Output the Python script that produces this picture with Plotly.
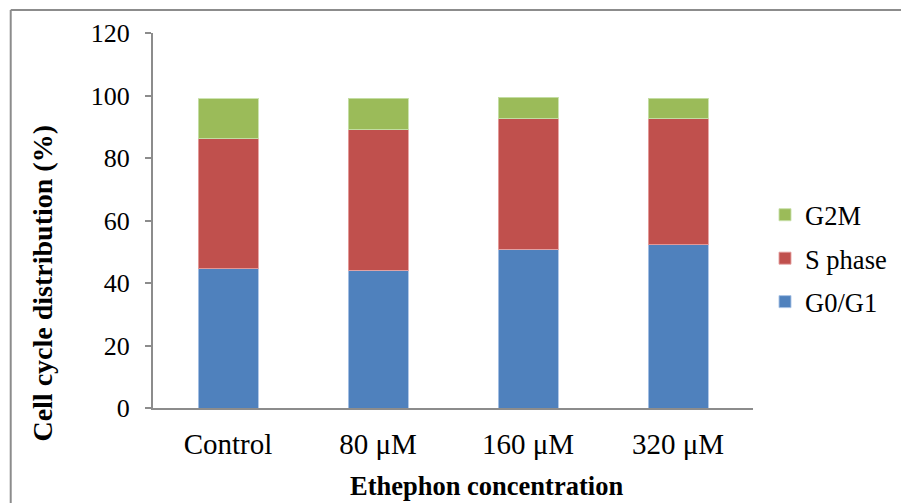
import plotly.graph_objects as go

# Cell cycle phase distribution (%) per ethephon treatment
categories = ["Control", "80 μM", "160 μM", "320 μM"]
g0_g1 = [44.6, 44.1, 50.8, 52.2]
s_phase = [41.6, 45.0, 41.8, 40.4]
g2m = [12.8, 10.0, 6.8, 6.6]

# name, values, fill, edge, legend rank (top phase listed first)
series = [
    ("G0/G1", g0_g1, "#4F81BD", "rgba(170,195,230,0.9)", 3),
    ("S phase", s_phase, "#C0504D", "rgba(230,160,160,0.9)", 2),
    ("G2M", g2m, "#9BBB59", "rgba(200,225,170,0.9)", 1),
]

FONT = "Liberation Serif, Times New Roman, serif"
AXIS_GRAY = "#8C8C8C"

# plot area in pixels: x 153..756, y 33..408
px_x = lambda p: (p - 153) / 603
px_y = lambda p: (408 - p) / 375

fig = go.Figure()
for name, vals, color, edge, rank in series:
    fig.add_trace(go.Bar(
        x=categories, y=vals, name=name, legendgroup=name, legendrank=rank,
        marker=dict(color=color, line=dict(color=edge, width=1)),
        width=0.4,
    ))

fig.update_layout(
    width=901, height=503,
    barmode="stack",
    plot_bgcolor="white", paper_bgcolor="white",
    margin=dict(l=153, r=145, t=33, b=95),
    font=dict(family=FONT, size=26, color="black"),
    showlegend=True,
    legend=dict(
        traceorder="grouped", tracegroupgap=6,
        xref="container", yref="container",
        x=765 / 901, y=1 - 191 / 503, xanchor="left", yanchor="top",
        font=dict(family=FONT, size=26.5), itemwidth=30,
        bgcolor="rgba(0,0,0,0)",
    ),
    xaxis=dict(
        showline=True, linecolor=AXIS_GRAY, linewidth=2,
        ticks="", showgrid=False, ticklabelstandoff=9,
        tickfont=dict(family=FONT, size=29),
    ),
    yaxis=dict(
        range=[0, 120], dtick=20, showline=True, linecolor=AXIS_GRAY, linewidth=2,
        ticks="outside", ticklen=6, tickcolor=AXIS_GRAY, tickwidth=2,
        showgrid=False, zeroline=False, ticklabelstandoff=10,
        tickfont=dict(family=FONT, size=26),
    ),
    shapes=[
        # gray frame: top and left edges
        dict(type="line", xref="paper", yref="paper", x0=px_x(10), x1=px_x(905),
             y0=px_y(10), y1=px_y(10), line=dict(color=AXIS_GRAY, width=2)),
        dict(type="line", xref="paper", yref="paper", x0=px_x(10), x1=px_x(10),
             y0=px_y(10), y1=px_y(510), line=dict(color=AXIS_GRAY, width=2)),
    ],
    annotations=[
        dict(text="<b>Cell cycle distribution (%)</b>", xref="paper", yref="paper",
             x=px_x(41), y=px_y(283), xanchor="center", yanchor="middle",
             textangle=-90, showarrow=False,
             font=dict(family=FONT, size=28)),
        dict(text="<b>Ethephon concentration</b>", xref="paper", yref="paper",
             x=px_x(488), y=px_y(486), xanchor="center", yanchor="middle",
             showarrow=False,
             font=dict(family=FONT, size=26.5)),
    ],
)

fig.write_html("out.html")
